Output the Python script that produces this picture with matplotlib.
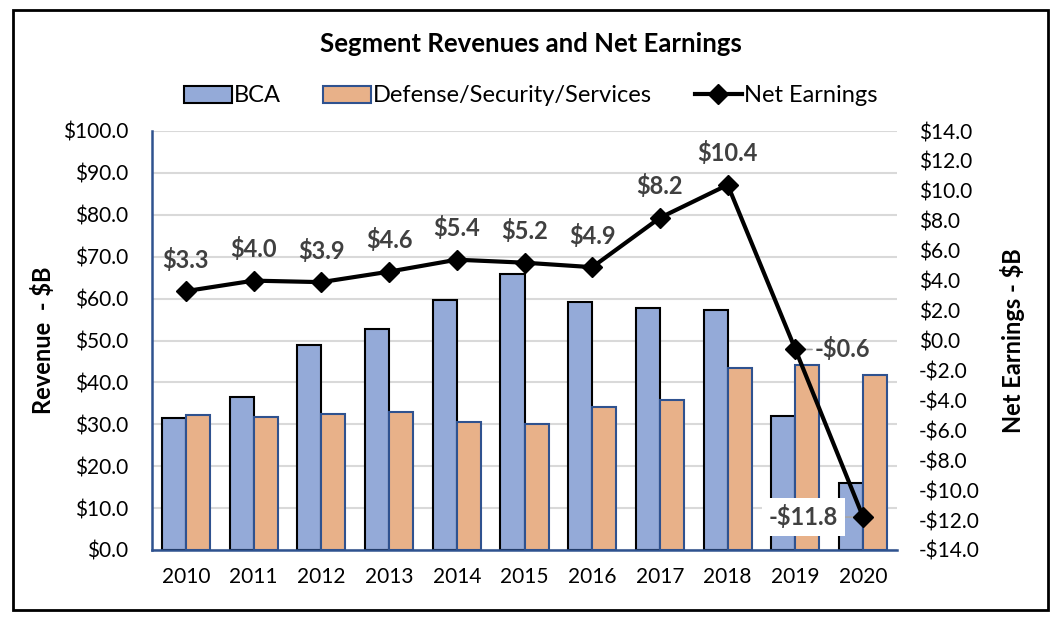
import matplotlib
matplotlib.use('Agg')
import matplotlib.pyplot as plt
from matplotlib.ticker import FuncFormatter, MultipleLocator
from matplotlib.patches import Rectangle
import numpy as np

plt.rcParams['font.family'] = ['Lato', 'DejaVu Sans']

## Data ($B)
years = ['2010', '2011', '2012', '2013', '2014', '2015', '2016', '2017', '2018', '2019', '2020']
bca = [31.6, 36.6, 48.9, 52.7, 59.7, 65.9, 59.2, 57.8, 57.3, 32.1, 16.1]
dss = [32.3, 31.8, 32.5, 32.9, 30.5, 30.1, 34.1, 35.9, 43.5, 44.2, 41.8]
net = [3.3, 4.0, 3.9, 4.6, 5.4, 5.2, 4.9, 8.2, 10.4, -0.6, -11.8]

bca_col = '#94AAD8'
dss_col = '#E8B189'
axis_blue = '#2F528F'
lab_col = '#404040'

fig = plt.figure(figsize=(10.62, 6.24), dpi=100)
ax = fig.add_axes([152/1062, 1-550/624, (897-152)/1062, (550-131)/624])

x = np.arange(len(years))
w = 0.355
b1 = ax.bar(x - w/2, bca, w, color=bca_col, edgecolor='black', linewidth=1.5, label='BCA', zorder=2)
b2 = ax.bar(x + w/2, dss, w, color=dss_col, edgecolor=axis_blue, linewidth=1.5,
            label='Defense/Security/Services', zorder=2)

ax.set_xlim(-0.5, len(years) - 0.5)
ax.set_ylim(0, 100)
ax.yaxis.set_major_locator(MultipleLocator(10))
ax.yaxis.set_major_formatter(FuncFormatter(lambda v, p: '${:.1f}'.format(v)))
ax.set_xticks(x)
ax.set_xticklabels(years)
ax.tick_params(axis='both', length=0, labelsize=15)
ax.tick_params(axis='y', pad=17)
ax.tick_params(axis='x', pad=12)
ax.grid(axis='y', color='#D9D9D9', linewidth=1.5, zorder=0)
ax.set_axisbelow(True)
for s in ['top', 'right']:
    ax.spines[s].set_visible(False)
for s in ['left', 'bottom']:
    ax.spines[s].set_color(axis_blue)
    ax.spines[s].set_linewidth(1.8)
ax.set_ylabel('Revenue  - $B', fontsize=17, fontweight='bold', labelpad=6)

## Net earnings on secondary axis
ax2 = ax.twinx()
ln, = ax2.plot(x, net, color='black', linewidth=3, marker='D', markersize=10, label='Net Earnings', zorder=5)
ax2.set_ylim(-14, 14)
ax2.yaxis.set_major_locator(MultipleLocator(2))
ax2.yaxis.set_major_formatter(FuncFormatter(
    lambda v, p: ('-${:.1f}'.format(-v) if v < -1e-9 else '${:.1f}'.format(abs(v)))))
ax2.tick_params(axis='y', length=0, labelsize=15, pad=16)
for s in ax2.spines.values():
    s.set_visible(False)
ax2.set_ylabel('Net Earnings - $B', fontsize=17, fontweight='bold', labelpad=14)

## Data labels
for i, v in enumerate(net):
    txt = '-${:.1f}'.format(-v) if v < 0 else '${:.1f}'.format(v)
    if i == 9:
        ax2.annotate(txt, (x[i], v), xytext=(14, 0), textcoords='offset points',
                     ha='left', va='center', fontsize=17, fontweight='bold', color=lab_col,
                     arrowprops=dict(arrowstyle='-', color='#A6A6A6', lw=1.2, shrinkA=0, shrinkB=4))
    elif i == 10:
        ax2.annotate(txt, (x[i], v), xytext=(-18, 0), textcoords='offset points',
                     ha='right', va='center', fontsize=17, fontweight='bold', color=lab_col,
                     bbox=dict(boxstyle='square,pad=0.3', fc='white', ec='none'),
                     arrowprops=dict(arrowstyle='-', color='#A6A6A6', lw=1.2, shrinkA=0, shrinkB=4))
    else:
        ax2.annotate(txt, (x[i], v), xytext=(0, 14), textcoords='offset points',
                     ha='center', va='bottom', fontsize=17, fontweight='bold', color=lab_col)

## Title and legend
fig.text(0.5, 1-44/624, 'Segment Revenues and Net Earnings', ha='center', va='center',
         fontsize=18.5, fontweight='bold')
fig.legend(handles=[b1, b2, ln], loc='center', bbox_to_anchor=(0.5, 1-96/624), ncol=3,
           frameon=False, fontsize=17, handlelength=2.0, handletextpad=0.1, columnspacing=1.8)

## Outer border
fig.patches.append(Rectangle((13/1062, 1-610/624), (1048-13)/1062, (610-10)/624,
                             transform=fig.transFigure, fill=False, edgecolor='black', linewidth=2))

plt.savefig('out.png', dpi=100)
